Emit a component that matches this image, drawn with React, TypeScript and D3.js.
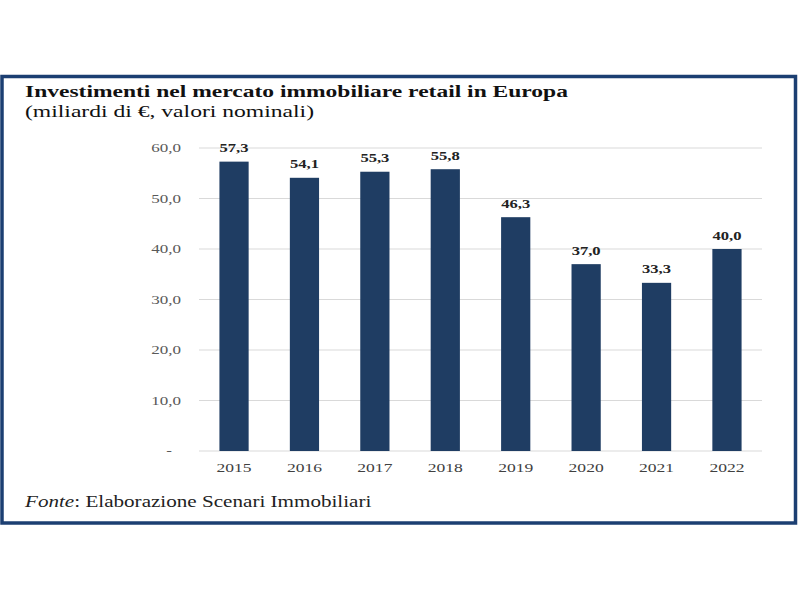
import React from "react";
import * as d3 from "d3";

const years = ["2015", "2016", "2017", "2018", "2019", "2020", "2021", "2022"];
const values = [57.3, 54.1, 55.3, 55.8, 46.3, 37.0, 33.3, 40.0];
const yTicks = [0, 10, 20, 30, 40, 50, 60];

const fmt = (v: number) => (v === 0 ? "-" : v.toFixed(1).replace(".", ","));
const font = "'Liberation Serif', 'Times New Roman', serif";

function T(props: { x: number; y: number; sx: number; children: React.ReactNode; [k: string]: any }) {
  const { x, y, sx, children, ...rest } = props;
  return (
    <text transform={`translate(${x},${y}) scale(${sx},1)`} fontFamily={font} {...rest}>
      {children}
    </text>
  );
}

export default function App() {
  const W = 800, H = 600;
  const x = d3.scaleBand<string>().domain(years).range([199, 762]).paddingInner(0.585).paddingOuter(0.29);
  const y = d3.scaleLinear().domain([0, 60]).range([451, 148]);
  return (
    <svg width={W} height={H} style={{ position: "absolute", left: 0, top: 0, background: "#fff" }}>
      <rect x={2} y={76.5} width={793.5} height={446.5} fill="#fff" stroke="#1c3f72" strokeWidth={3.5} />
      <T x={25} y={97} sx={1.345} fontWeight="bold" fontSize={17.5} fill="#111">
        Investimenti nel mercato immobiliare retail in Europa
      </T>
      <T x={25} y={116.5} sx={1.35} fontSize={17.5} fill="#111">
        (miliardi di €, valori nominali)
      </T>
      {yTicks.map((t) => (
        <g key={t}>
          <line x1={199} x2={762} y1={y(t)} y2={y(t)} stroke="#d9d9d9" strokeWidth={1.2} />
          <T
            x={t === 0 ? 172 : 181}
            y={y(t) + 4}
            sx={1.42}
            textAnchor="end"
            fontSize={12}
            fill="#595959"
          >
            {fmt(t)}
          </T>
        </g>
      ))}
      {years.map((yr, i) => (
        <g key={yr}>
          <rect x={x(yr)} y={y(values[i])} width={x.bandwidth()} height={y(0) - y(values[i])} fill="#1f3d63" />
          <T
            x={(x(yr) as number) + x.bandwidth() / 2}
            y={y(values[i]) - 9.5}
            sx={1.38}
            textAnchor="middle"
            fontWeight="bold"
            fontSize={12}
            fill="#222"
          >
            {fmt(values[i])}
          </T>
          <T
            x={(x(yr) as number) + x.bandwidth() / 2}
            y={472}
            sx={1.3}
            textAnchor="middle"
            fontSize={13.5}
            fill="#404040"
          >
            {yr}
          </T>
        </g>
      ))}
      <T x={25} y={507} sx={1.28} fontSize={16.5} fill="#222">
        <tspan fontStyle="italic">Fonte</tspan>: Elaborazione Scenari Immobiliari
      </T>
    </svg>
  );
}
